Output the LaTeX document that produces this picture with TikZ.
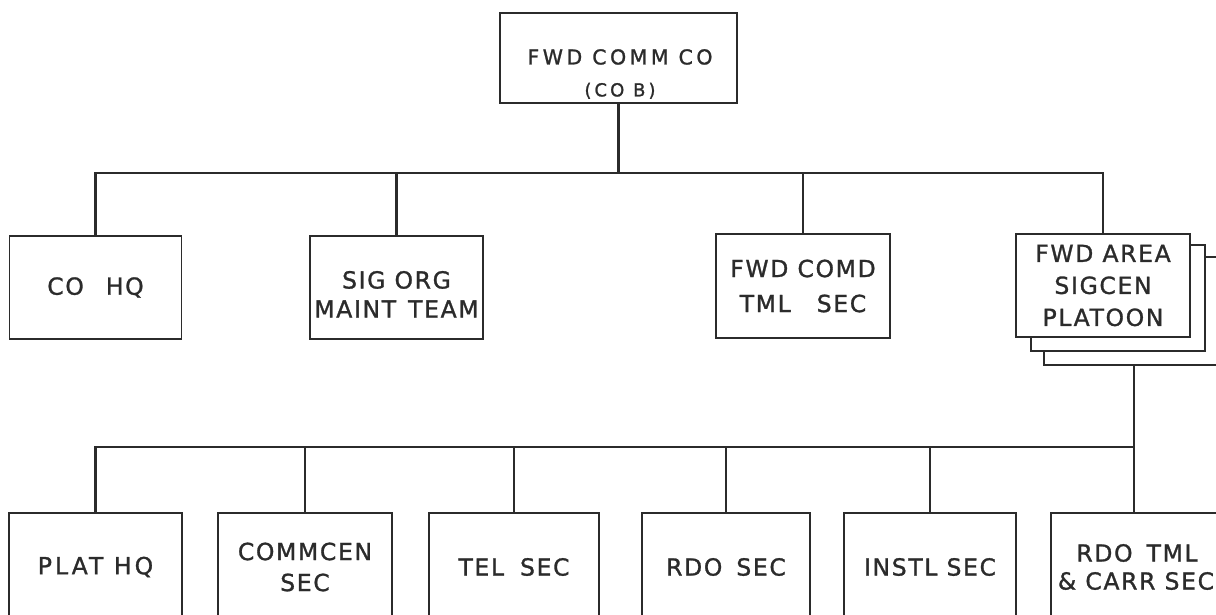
\documentclass[tikz,border=0pt]{standalone}
\usepackage{fontspec}
\newfontfamily\lettering[LetterSpace=7,FakeBold=1.2]{DejaVu Sans}
\newfontfamily\widelettering[LetterSpace=13,FakeBold=1.2]{DejaVu Sans}
\newfontfamily\toplettering[LetterSpace=17,FakeBold=1.2]{DejaVu Sans}
\definecolor{ink}{HTML}{2B2B2B}
\begin{document}
\begin{tikzpicture}[x=1pt,y=-1pt,
  box/.style={draw=ink, line width=1.7pt, fill=white, inner sep=0pt, align=center,
    font=\lettering\fontsize{23.5}{29}\selectfont, text=ink},
  conn/.style={draw=ink, line width=2.5pt}]
\useasboundingbox (0,0) rectangle (1216,614);
\clip (0,0) rectangle (1216,614);
\fill[white] (0,0) rectangle (1216,614);
\coordinate (bus1) at (0,173);
\coordinate (bus2) at (0,447);
% top
\node[box, minimum width=237pt, minimum height=90pt] (top) at (618.5,58) {};
\node[align=center, inner sep=0pt, text=ink, font=\toplettering\fontsize{20.5}{32}\selectfont] (toptxt) at (620,74) {FWD COMM CO\\{\fontsize{18}{20}\selectfont (CO B)}};
% second row
\node[box, minimum width=172pt, minimum height=103pt] (cohq) at (95.5,287.5) {CO\hspace{22pt}HQ};
\node[box, minimum width=173pt, minimum height=103pt] (sigorg) at (396.5,287.5) {\rule{0pt}{31pt}SIG ORG\\MAINT\hspace{12pt}TEAM};
\node[box, minimum width=174pt, minimum height=104pt] (comd) at (803,286) {FWD COMD\\[6pt]TML\hspace{26pt}SEC};
\node[box, minimum width=180pt, minimum height=108pt] (plat3) at (1134,311) {};
\node[box, minimum width=174pt, minimum height=106pt] (plat2) at (1118,298) {};
\node[box, minimum width=174pt, minimum height=103pt] (area) at (1103,285.5) {FWD AREA\\[3pt]SIGCEN\\[3pt]PLATOON};
% third row
\node[box, minimum width=173pt, minimum height=108pt] (plathq) at (95.5,567) {\widelettering PLAT HQ};
\node[box, minimum width=174pt, minimum height=108pt] (commcen) at (305,567) {COMMCEN\\[2pt]SEC};
\node[box, minimum width=170pt, minimum height=108pt] (tel) at (514,567) {TEL\hspace{16pt}SEC};
\node[box, minimum width=168pt, minimum height=108pt] (rdo) at (726,567) {RDO\hspace{14pt}SEC};
\node[box, minimum width=172pt, minimum height=108pt] (instl) at (930,567) {INSTL SEC};
\node[box, minimum width=166pt, minimum height=108pt] (rdotml) at (1134,567) {\hspace{6pt}RDO\hspace{14pt}TML\\[-1pt]\hspace{4pt}\& CARR SEC};
% connectors
\draw[conn] (top.south) -- (top.south |- bus1);
\draw[conn] (cohq.north) |- (area.north |- bus1) -- (area.north);
\draw[conn] (sigorg.north) -- (sigorg.north |- bus1);
\draw[conn] (comd.north) -- (comd.north |- bus1);
\draw[conn] (plat3.south) -- (plat3.south |- bus2);
\draw[conn] (plathq.north) |- (rdotml.north |- bus2) -- (rdotml.north);
\draw[conn] (commcen.north) -- (commcen.north |- bus2);
\draw[conn] (tel.north) -- (tel.north |- bus2);
\draw[conn] (rdo.north) -- (rdo.north |- bus2);
\draw[conn] (instl.north) -- (instl.north |- bus2);
\end{tikzpicture}
\end{document}
